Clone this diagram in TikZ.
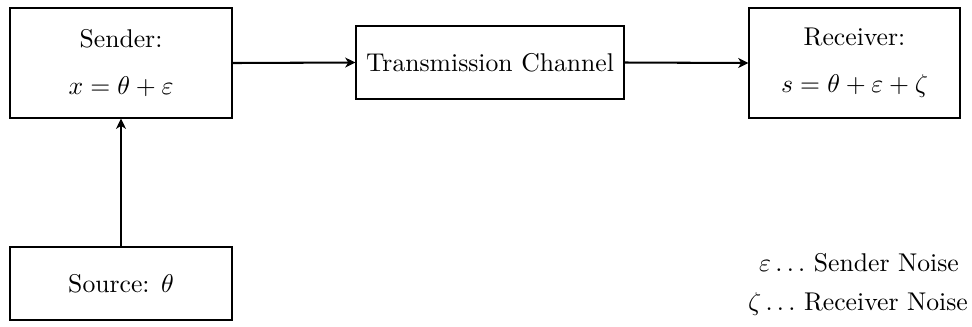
\documentclass[tikz,border=0pt]{standalone}
\usetikzlibrary{arrows.meta}
\begin{document}
\begin{tikzpicture}[x=0.3896pt, y=-0.3896pt,
  blockbox/.style={draw, line width=0.45pt, align=center, inner sep=0pt},
  flow/.style={line width=0.8pt, -{Stealth[length=4pt, width=3.9pt, inset=1.2pt]}},
  legendtext/.style={anchor=base, inner sep=0pt}]
  \useasboundingbox (0,0) rectangle (972,326);

  % blocks
  \node[blockbox, minimum width=86.5pt, minimum height=42.9pt] (sender) at (121,63)
    {Sender:\\[6.3pt]$x=\theta+\varepsilon$};
  \node[blockbox, minimum width=104.4pt, minimum height=28.4pt] (channel) at (490,62.5)
    {Transmission Channel};
  \node[blockbox, minimum width=82.2pt, minimum height=42.9pt] (receiver) at (854.5,63)
    {Receiver:\\[6.3pt]$s=\theta+\varepsilon+\zeta$};
  \node[blockbox, minimum width=86.5pt, minimum height=28.4pt] (source) at (121,283.5)
    {Source: $\theta$};

  % signal flow
  \draw[flow] (sender.east) -- (channel.west);
  \draw[flow] (channel.east) -- (receiver.west);
  \draw[flow] (source.north) -- (sender.south);

  % legend
  \node[legendtext] (noiseA) at (859,271) {$\varepsilon\ldots$ Sender Noise};
  \node[legendtext] (noiseB) at (858,310) {$\zeta\ldots$ Receiver Noise};
\end{tikzpicture}
\end{document}
